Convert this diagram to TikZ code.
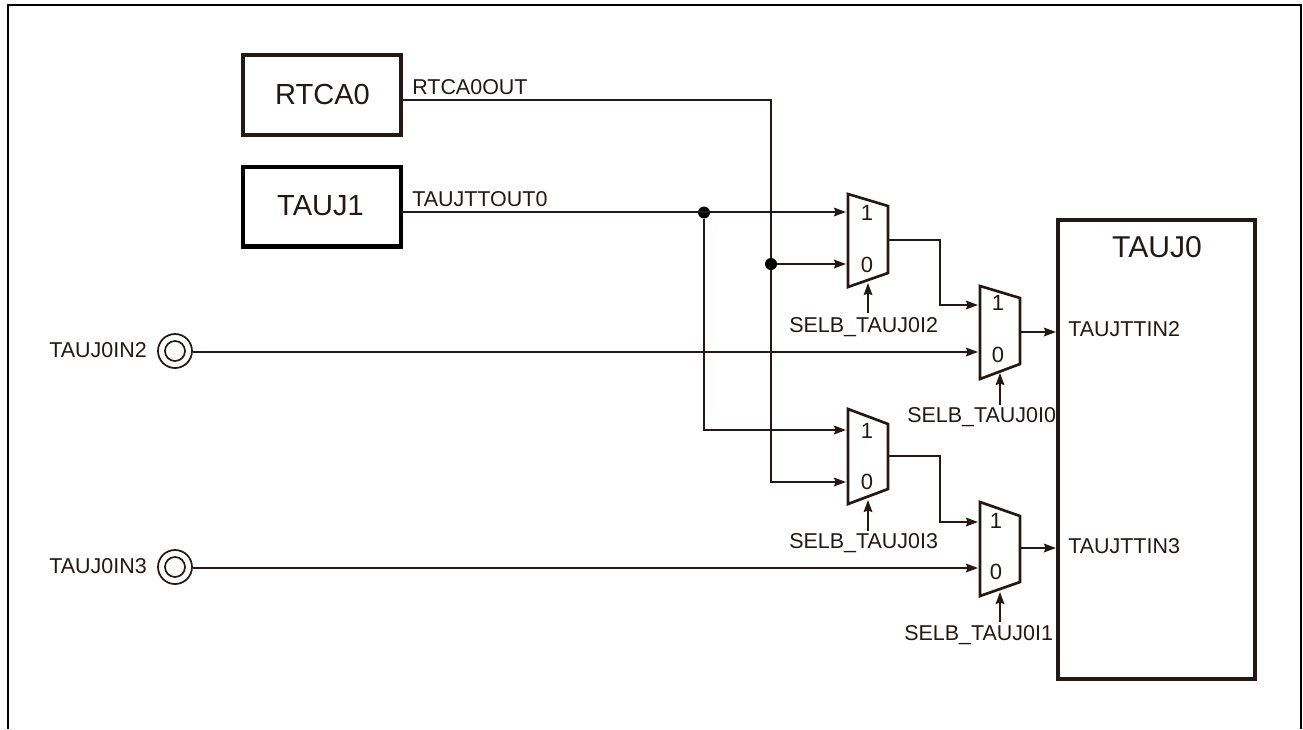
\documentclass[tikz,border=0pt]{standalone}
\usepackage{fontspec}
\setmainfont{Liberation Sans}
\usetikzlibrary{arrows.meta,positioning}
\definecolor{ink}{HTML}{231815}
\tikzset{
  wire/.style={draw=ink,line width=1.3pt},
  arr/.style={wire,-{Stealth[length=9pt,width=6.5pt,inset=1.2pt]}},
  muxbox/.style={draw=ink,line width=2pt,line join=miter},
  block/.style={draw=ink,line width=3pt,inner sep=0pt,outer sep=0pt,rectangle,anchor=north west},
  lab/.style={inner sep=0pt,text=ink,font=\fontsize{16.1pt}{17pt}\selectfont},
  big/.style={inner sep=0pt,text=ink,font=\fontsize{21.8pt}{24pt}\selectfont},
  muxlab/.style={inner sep=0pt,text=ink,font=\fontsize{16.5pt}{18pt}\selectfont},
  dotmark/.style={circle,fill=black,inner sep=0pt,minimum size=9pt},
  portout/.style={circle,draw=ink,line width=1.3pt,inner sep=0pt,minimum size=25.5pt},
  portin/.style={circle,draw=ink,line width=1.3pt,inner sep=0pt,minimum size=15pt},
}
\begin{document}
\begin{tikzpicture}[x=0.75pt,y=-0.75pt]
\useasboundingbox (0,0) rectangle (1303,729);
\draw[black,line width=1.6pt] (8,729) -- (8,5) -- (1301,5) -- (1301,729);

% blocks
\node[block,minimum width=158*0.75pt,minimum height=80*0.75pt] (rtca) at (243,54.7) {};
\node[big] at (322.5,94) {RTCA0};
\node[block,draw=black,line width=3.4pt,minimum width=158*0.75pt,minimum height=79.5*0.75pt] (tauj1) at (243,167) {};
\node[big] at (320.5,206) {TAUJ1};
\node[block,minimum width=197*0.75pt,minimum height=459*0.75pt] (tauj0) at (1058,220) {};
\node[big,font=\fontsize{22.6pt}{24pt}\selectfont] at (1157,247.5) {TAUJ0};

% muxes
\foreach \xa/\ya/\yb/\yc/\yd in {848/194/206/273/287, 980/286/298/364/379, 848/409/424/489/504, 980/502/516/582/596}{
  \draw[muxbox] (\xa,\ya) -- (\xa+40,\yb) -- (\xa+40,\yc) -- (\xa,\yd) -- cycle;
}
\coordinate (ma1) at (846,212); \coordinate (ma0) at (846,264); \coordinate (maout) at (888,240); \coordinate (masel) at (868,283);
\coordinate (mb1) at (978,305); \coordinate (mb0) at (978,352); \coordinate (mbout) at (1020,332); \coordinate (mbsel) at (1000,373);
\coordinate (mc1) at (846,430); \coordinate (mc0) at (846,482); \coordinate (mcout) at (888,456); \coordinate (mcsel) at (868,500);
\coordinate (md1) at (978,522); \coordinate (md0) at (978,568); \coordinate (mdout) at (1020,548); \coordinate (mdsel) at (1000,592);

\node[muxlab] at (867,213) {1}; \node[muxlab] at (867,265) {0};
\node[muxlab] at (998,303) {1}; \node[muxlab] at (998,355) {0};
\node[muxlab] at (867,431) {1}; \node[muxlab] at (867,482) {0};
\node[muxlab] at (996,521) {1}; \node[muxlab] at (996,572) {0};

% ports
\node[portout] (p2) at (175,351) {}; \node[portin] (p2i) at (175,351) {};
\node[portout] (p3) at (175,567) {}; \node[portin] (p3i) at (175,567) {};
\node[lab,anchor=east] at (147,350) {TAUJ0IN2};
\node[lab,anchor=east] at (147,566) {TAUJ0IN3};

% junctions
\node[dotmark] (j1) at (704,212.5) {};
\node[dotmark] (j2) at (771,264) {};

% wires
\path (tauj1.east |- 0,100) coordinate (rs);
\path (tauj1.east |- 0,212) coordinate (ts);
\draw[wire] (rs) -- (771,100) -- (j2);
\draw[arr] (j2) -- (771,482) -- (mc0);
\draw[arr] (j2) -- (ma0);
\draw[arr] (ts) -- (ma1);
\draw[arr] (j1) -- (704,430) -- (mc1);
\draw[arr] (p2.east |- 0,352) -- (mb0);
\draw[arr] (p3.east |- 0,568) -- (md0);
\draw[arr] (maout) -- (940,240) -- (940,305) -- (mb1);
\draw[arr] (mcout) -- (940,456) -- (940,522) -- (md1);
\draw[arr] (mbout) -- (1056,332);
\draw[arr] (mdout) -- (1056,548);

% select lines
\coordinate (sa) at (868,313); \coordinate (sb) at (1000,405);
\coordinate (sc) at (868,531); \coordinate (sd) at (1000,622);
\draw[arr] (sa) -- (masel);
\draw[arr] (sb) -- (mbsel);
\draw[arr] (sc) -- (mcsel);
\draw[arr] (sd) -- (mdsel);

% labels
\node[lab,anchor=west] at (412,87) {RTCA0OUT};
\node[lab,anchor=west] at (412,199) {TAUJTTOUT0};
\node[lab,anchor=west] at (1068,329) {TAUJTTIN2};
\node[lab,anchor=west] at (1068,546) {TAUJTTIN3};
\node[lab,anchor=west] at (789,327) {SELB\_TAUJ0I2};
\node[lab,anchor=west] at (907,417) {SELB\_TAUJ0I0};
\node[lab,anchor=west] at (789,543) {SELB\_TAUJ0I3};
\node[lab,anchor=west] at (904,635) {SELB\_TAUJ0I1};
\end{tikzpicture}
\end{document}
